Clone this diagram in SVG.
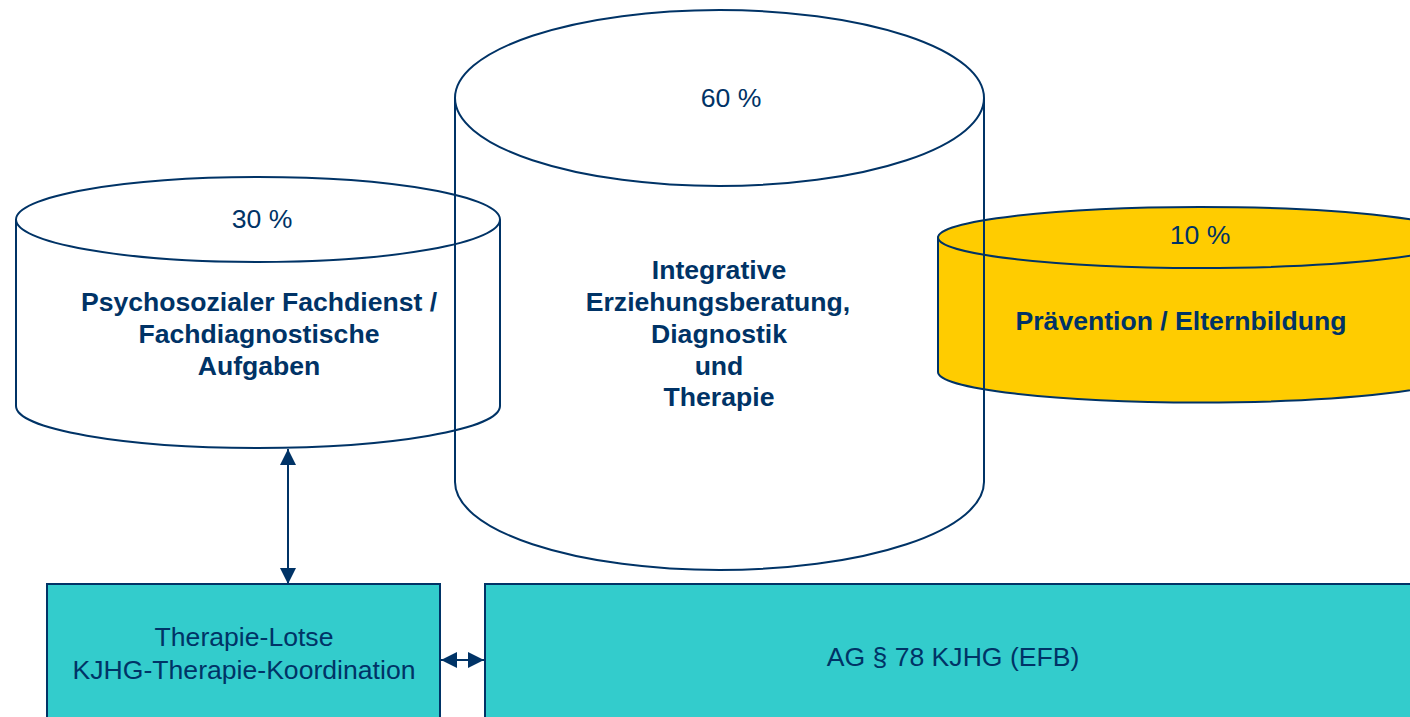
<svg xmlns="http://www.w3.org/2000/svg" width="1410" height="717" viewBox="0 0 1410 717">
<style>
.ln{stroke:#003366;stroke-width:2;fill:none}
.t{font-family:"Liberation Sans",Arial,sans-serif;font-size:26.6px;fill:#003366;text-anchor:middle}
.b{font-weight:bold}
.box{fill:#33CCCC;stroke:#003366;stroke-width:2}
</style>
<defs>
<marker id="ah" markerUnits="userSpaceOnUse" markerWidth="16" markerHeight="16" refX="15" refY="7.5" orient="auto-start-reverse" viewBox="0 0 15 15">
<path d="M0,0 L15,7.5 L0,15 z" fill="#003366"/>
</marker>
</defs>
<rect width="1410" height="717" fill="#ffffff"/>
<g id="yellow-cylinder">
<path d="M938,237.5 L938,372 A262,30.5 0 0 0 1462,372 L1462,237.5 Z" fill="#FFCC00" stroke="#003366" stroke-width="2"/>
<ellipse cx="1200" cy="237.5" rx="262" ry="30.5" fill="#FFCC00" stroke="#003366" stroke-width="2"/>
<text class="t" x="1200" y="244">10 %</text>
<text class="t b" x="1181" y="330">Prävention / Elternbildung</text>
</g>
<g id="big-cylinder">
<path class="ln" d="M455,98 L455,482 A264.5,88 0 0 0 984,482 L984,98"/>
<ellipse class="ln" cx="719.5" cy="98" rx="264.5" ry="88"/>
<text class="t" x="731" y="107">60 %</text>
<text class="t b" x="719" y="279">Integrative</text>
<text class="t b" x="718" y="311">Erziehungsberatung,</text>
<text class="t b" x="719" y="343">Diagnostik</text>
<text class="t b" x="719" y="375">und</text>
<text class="t b" x="719" y="406">Therapie</text>
</g>
<g id="left-cylinder">
<path class="ln" d="M16,219.5 L16,406 A242,42 0 0 0 500,406 L500,219.5"/>
<ellipse class="ln" cx="258" cy="219.5" rx="242" ry="42.5"/>
<text class="t" x="262" y="228">30 %</text>
<text class="t b" x="259" y="311">Psychosozialer Fachdienst /</text>
<text class="t b" x="259" y="343">Fachdiagnostische</text>
<text class="t b" x="259" y="375">Aufgaben</text>
</g>
<g id="therapie-lotse">
<rect class="box" x="47" y="584" width="393" height="150"/>
<text class="t" x="244" y="646">Therapie-Lotse</text>
<text class="t" x="244" y="679">KJHG-Therapie-Koordination</text>
</g>
<g id="ag78">
<rect class="box" x="485" y="584" width="940" height="150"/>
<text class="t" x="953" y="666">AG § 78 KJHG (EFB)</text>
</g>
<g id="connectors">
<line class="ln" x1="288" y1="449" x2="288" y2="584" marker-start="url(#ah)" marker-end="url(#ah)"/>
<line class="ln" x1="441" y1="660" x2="484" y2="660" marker-start="url(#ah)" marker-end="url(#ah)"/>
</g>
</svg>
